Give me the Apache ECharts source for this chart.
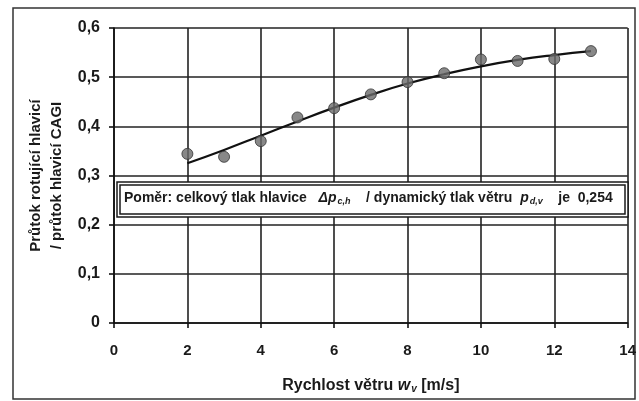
<!DOCTYPE html>
<html>
<head>
<meta charset="utf-8">
<script src="https://cdn.jsdelivr.net/npm/echarts@6/dist/echarts.min.js"></script>
<style>
  html, body { margin: 0; padding: 0; background: #fff; }
  #chart { width: 639px; height: 401px; }
</style>
</head>
<body>
<div id="chart"></div>
<script>
// rychlost větru [m/s]
var speeds = [2, 3, 4, 5, 6, 7, 8, 9, 10, 11, 12, 13]
// měřené hodnoty poměru průtoků
var measured = [0.344, 0.338, 0.370, 0.418, 0.437, 0.465, 0.490, 0.508, 0.536, 0.533, 0.537, 0.553]
// spojnice trendu
var trend = [0.325, 0.352, 0.381, 0.410, 0.438, 0.464, 0.487, 0.506, 0.522, 0.535, 0.545, 0.553]
var xTicks = [0, 2, 4, 6, 8, 10, 12, 14]
var yTicks = [0, 0.1, 0.2, 0.3, 0.4, 0.5, 0.6]

var font = 'Liberation Sans, Arial, sans-serif'
var chart = echarts.init(document.getElementById('chart'))

chart.setOption({
  animation: false,
  grid: { left: 114, right: 8, top: 28, bottom: 78 },
  xAxis: {
    type: 'value',
    min: xTicks[0],
    max: xTicks[xTicks.length - 1],
    interval: 2,
    axisLine: { show: true, lineStyle: { color: '#111', width: 1.6 } },
    axisTick: { show: true, length: 5, lineStyle: { color: '#111', width: 1.6 } },
    splitLine: { show: true, lineStyle: { color: '#222', width: 1.6 } },
    axisLabel: { margin: 20, color: '#1a1a1a', fontFamily: font, fontWeight: 'bold', fontSize: 15 },
    name: 'Rychlost větru {i|w}{s|v} [m/s]',
    nameLocation: 'middle',
    nameGap: 55,
    nameTextStyle: {
      color: '#1a1a1a', fontFamily: font, fontWeight: 'bold', fontSize: 16,
      rich: {
        i: { fontFamily: font, fontWeight: 'bold', fontStyle: 'italic', fontSize: 16, color: '#1a1a1a' },
        s: { fontFamily: font, fontWeight: 'bold', fontStyle: 'italic', fontSize: 10, color: '#1a1a1a', verticalAlign: 'bottom', padding: [6, 0, 0, 1] }
      }
    }
  },
  yAxis: {
    type: 'value',
    min: yTicks[0],
    max: yTicks[yTicks.length - 1],
    interval: 0.1,
    axisLine: { show: true, lineStyle: { color: '#111', width: 1.6 } },
    axisTick: { show: true, length: 5, lineStyle: { color: '#111', width: 1.6 } },
    splitLine: { show: true, lineStyle: { color: '#222', width: 1.6 } },
    axisLabel: {
      margin: 14, color: '#1a1a1a', fontFamily: font, fontWeight: 'bold', fontSize: 16,
      formatter: function (v) { return String(Math.round(v * 10) / 10).replace('.', ',') }
    },
    name: 'Průtok rotující hlavicí\n/ průtok hlavicí CAGI',
    nameLocation: 'middle',
    nameRotate: 90,
    nameGap: 47,
    nameMoveOverlap: false,
    nameTextStyle: { color: '#1a1a1a', fontFamily: font, fontWeight: 'bold', fontSize: 15, lineHeight: 21 }
  },
  series: [
    {
      name: 'trend',
      type: 'line',
      data: speeds.map(function (x, i) { return [x, trend[i]] }),
      smooth: true,
      showSymbol: false,
      lineStyle: { color: '#111', width: 2.2 },
      z: 3
    },
    {
      name: 'měření',
      type: 'scatter',
      data: speeds.map(function (x, i) { return [x, measured[i]] }),
      symbol: 'circle',
      symbolSize: 11,
      itemStyle: { color: '#6a6a6a', borderColor: '#333', borderWidth: 1 },
      z: 4
    }
  ],
  graphic: [
    {
      type: 'rect',
      shape: { x: 13, y: 8, width: 622, height: 391 },
      style: { fill: 'none', stroke: '#333', lineWidth: 1.5 },
      silent: true
    },
    {
      type: 'rect',
      shape: { x: 117, y: 182, width: 511, height: 35 },
      style: { fill: '#fff', stroke: '#1a1a1a', lineWidth: 1.5 },
      z: 10
    },
    {
      type: 'rect',
      shape: { x: 120, y: 185, width: 505, height: 29 },
      style: { fill: 'none', stroke: '#1a1a1a', lineWidth: 1.5 },
      z: 10
    },
    {
      type: 'text',
      left: 124,
      top: 191,
      z: 11,
      style: {
        text: 'Poměr: celkový tlak hlavice   {i|Δp}{s|c,h}    / dynamický tlak větru  {i|p}{s|d,v}    je  0,254',
        fill: '#1a1a1a',
        font: 'bold 14px Liberation Sans, Arial, sans-serif',
        rich: {
          i: { fontFamily: font, fontWeight: 'bold', fontStyle: 'italic', fontSize: 14, fill: '#1a1a1a' },
          s: { fontFamily: font, fontWeight: 'bold', fontStyle: 'italic', fontSize: 9, fill: '#1a1a1a', padding: [7, 0, 0, 1] }
        }
      }
    }
  ]
})
</script>
</body>
</html>
